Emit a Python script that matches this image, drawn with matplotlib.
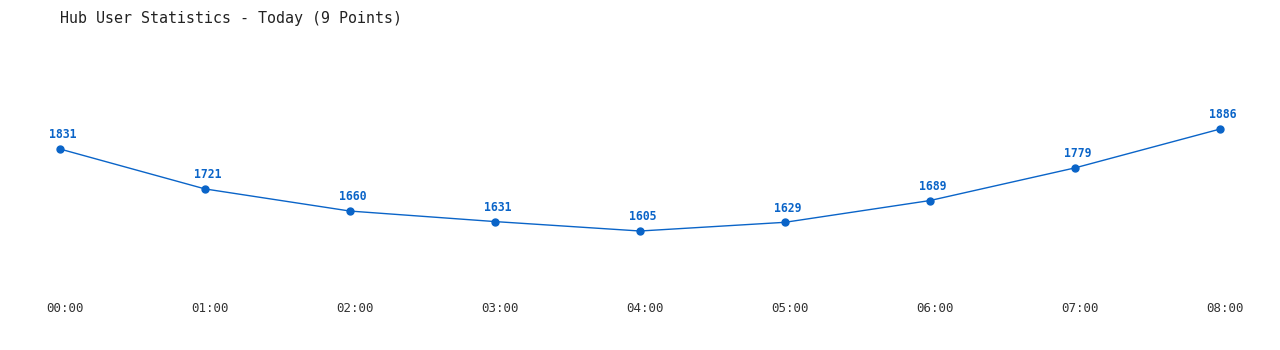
import matplotlib
matplotlib.use('Agg')
import matplotlib.pyplot as plt
import matplotlib.transforms as mtransforms

hours = ['00:00', '01:00', '02:00', '03:00', '04:00', '05:00', '06:00', '07:00', '08:00']
users = [1831, 1721, 1660, 1631, 1605, 1629, 1689, 1779, 1886]

blue = '#0a64c8'

fig = plt.figure(figsize=(12.8, 3.5), dpi=100)
ax = fig.add_axes([60 / 1280, 1 - 290 / 350, 1160 / 1280, 250 / 350])

xs = list(range(len(users)))
ax.plot(xs, users, color=blue, lw=1, marker='o', ms=5)
for x, v in zip(xs, users):
    ax.annotate(str(v), (x, v), xytext=(2, 5.5), textcoords='offset points',
                ha='center', va='bottom', color=blue, fontsize=8.3,
                fontweight='bold', family='DejaVu Sans Mono')

ax.set_xlim(0, len(users) - 1)
ax.set_ylim(1442.4, 2131.5)
ax.set_xticks(xs)
ax.set_xticklabels(hours, family='DejaVu Sans Mono', fontsize=9, color='#333333')
ax.set_yticks([])
ax.tick_params(axis='x', length=0, pad=9)
offset = mtransforms.ScaledTranslation(5 / 100, 0, fig.dpi_scale_trans)
for lab in ax.get_xticklabels():
    lab.set_transform(lab.get_transform() + offset)
for s in ax.spines.values():
    s.set_visible(False)
ax.patch.set_alpha(0)
for line in ax.get_lines():
    line.set_clip_on(False)

fig.text(60 / 1280, 1 - 18 / 350, 'Hub User Statistics - Today (9 Points)',
         family='DejaVu Sans Mono', fontsize=10.8, color='#222222', va='center', ha='left')

fig.savefig('out.png', dpi=100, facecolor='white')
